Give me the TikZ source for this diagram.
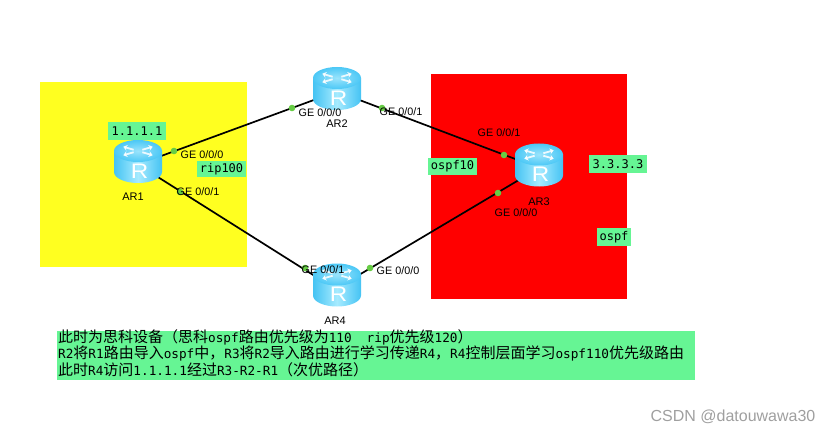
\documentclass[tikz,border=0pt]{standalone}
\usepackage{fontspec}
\setmainfont{Liberation Sans}
\setmonofont{DejaVu Sans Mono}
\newfontfamily\cjk{Noto Sans CJK SC}
\usetikzlibrary{arrows.meta, calc, positioning}
\definecolor{notegreen}{HTML}{66F594}
\definecolor{portgreen}{HTML}{66CC44}
\definecolor{areayellow}{HTML}{FFFF20}
\definecolor{routerdark}{HTML}{45C3F3}
\definecolor{routerlight}{HTML}{A6EBFF}
\definecolor{routertop}{HTML}{4CC8F6}
\definecolor{routermid}{HTML}{9AE4FC}
\newcommand{\hz}[1]{{\cjk\fontsize{15}{15}\selectfont #1}}
\tikzset{
  routernode/.style={minimum width=48pt, minimum height=43pt, inner sep=0pt},
  linkline/.style={line width=1.7pt},
  portlabel/.style={font=\fontsize{10.8}{12}\selectfont, inner sep=0pt},
  namelabel/.style={font=\fontsize{11}{12}\selectfont, inner sep=0pt},
  greenbox/.style={fill=notegreen, inner sep=0pt, font=\ttfamily\fontsize{12}{14}\selectfont},
  routericon/.pic={
    \shade[left color=routerdark, right color=routerdark, middle color=routerlight]
      (-24,-13.5) -- (-24,7.5) arc[start angle=180, end angle=0, x radius=24, y radius=11]
      -- (24,-13.5) -- cycle;
    \shade[inner color=routermid, outer color=routertop] (0,-13.5) ellipse[x radius=24, y radius=11];
    \foreach \a in {30,150,210,330} {
      \draw[white, opacity=0.85, line width=1.8pt, -{Stealth[length=4pt,width=6pt]}]
        ($(0,-13.5)+(\a:5 and 2.5)$) -- ($(0,-13.5)+(\a:17 and 8.5)$);
    }
    \node[white, inner sep=0pt, xscale=1.15, transform shape, font=\fontsize{21}{21}\selectfont] (-letter) at (1.5,6.5) {R};
  }
}

\begin{document}
\begin{tikzpicture}[x=1pt,y=-1pt]
\useasboundingbox (0,0) rectangle (830,433);
% areas
\fill[areayellow] (40,82) rectangle (247,267);
\fill[red] (431,74) rectangle (627,299);
% routers
\node[routernode] (ar1) at (138,164.5) {};
\node[routernode] (ar2) at (337,91.5) {};
\node[routernode] (ar3) at (539,168) {};
\node[routernode] (ar4) at (337,288) {};
% links
\draw[linkline] (ar1.center) -- (ar2.center);
\draw[linkline] (ar2.center) -- (ar3.center);
\draw[linkline] (ar3.center) -- (ar4.center);
\draw[linkline] (ar1.center) -- ([yshift=-2pt]ar4.center);
\foreach \r in {ar1,ar2,ar3,ar4} {
  \pic at (\r.center) {routericon};
}
% port dots
\foreach \x/\y in {174/151, 292/108, 382/108, 504/155, 498/193, 180/192, 305/268, 370/268} {
  \fill[portgreen] (\x,\y) circle (3.3pt);
}
% port labels
\node[portlabel] (p1a) at (202,155) {GE 0/0/0};
\node[portlabel] (p1b) at (198,192) {GE 0/0/1};
\node[portlabel] (p2a) at (320,112.5) {GE 0/0/0};
\node[portlabel] (p2b) at (401,112) {GE 0/0/1};
\node[portlabel] (p3b) at (499,133) {GE 0/0/1};
\node[portlabel] (p3a) at (516,213) {GE 0/0/0};
\node[portlabel] (p4b) at (323,270) {GE 0/0/1};
\node[portlabel] (p4a) at (398,271) {GE 0/0/0};
% router names
\node[namelabel] (n1) at (133,197) {AR1};
\node[namelabel] (n2) at (337,124) {AR2};
\node[namelabel] (n3) at (539,202) {AR3};
\node[namelabel] (n4) at (335,321) {AR4};
% green labels
\node[greenbox, minimum width=58pt, minimum height=18pt] (lo1) at (137,131) {1.1.1.1};
\node[greenbox, minimum width=49pt, minimum height=16pt] (rip) at (221.5,169) {rip100};
\node[greenbox, minimum width=49pt, minimum height=17pt] (os10) at (452.5,166.5) {ospf10};
\node[greenbox, minimum width=58pt, minimum height=18pt] (lo3) at (618,164) {3.3.3.3};
\node[greenbox, minimum width=34pt, minimum height=18pt] (os) at (614,237) {ospf};
% note
\node[fill=notegreen, anchor=north west, inner xsep=1pt, inner ysep=0pt, text width=636pt,
  text height=11pt, text depth=38pt, align=left, font=\ttfamily\fontsize{12.7}{15}\selectfont] (note) at (57,331)
  {\hz{此时为思科设备（思科}ospf\hz{路由优先级为}110\hspace{15pt}rip\hz{优先级}120\hz{）}\\
   R2\hz{将}R1\hz{路由导入}ospf\hz{中，}R3\hz{将}R2\hz{导入路由进行学习传递}R4\hz{，}R4\hz{控制层面学习}ospf110\hz{优先级路由}\\
   \hz{此时}R4\hz{访问}1.1.1.1\hz{经过}R3-R2-R1\hz{（次优路径）}};
% watermark
\node[text=gray!75, inner sep=0pt, font=\fontsize{16}{17}\selectfont] (mark) at (733,417) {CSDN @datouwawa30};
\end{tikzpicture}
\end{document}
